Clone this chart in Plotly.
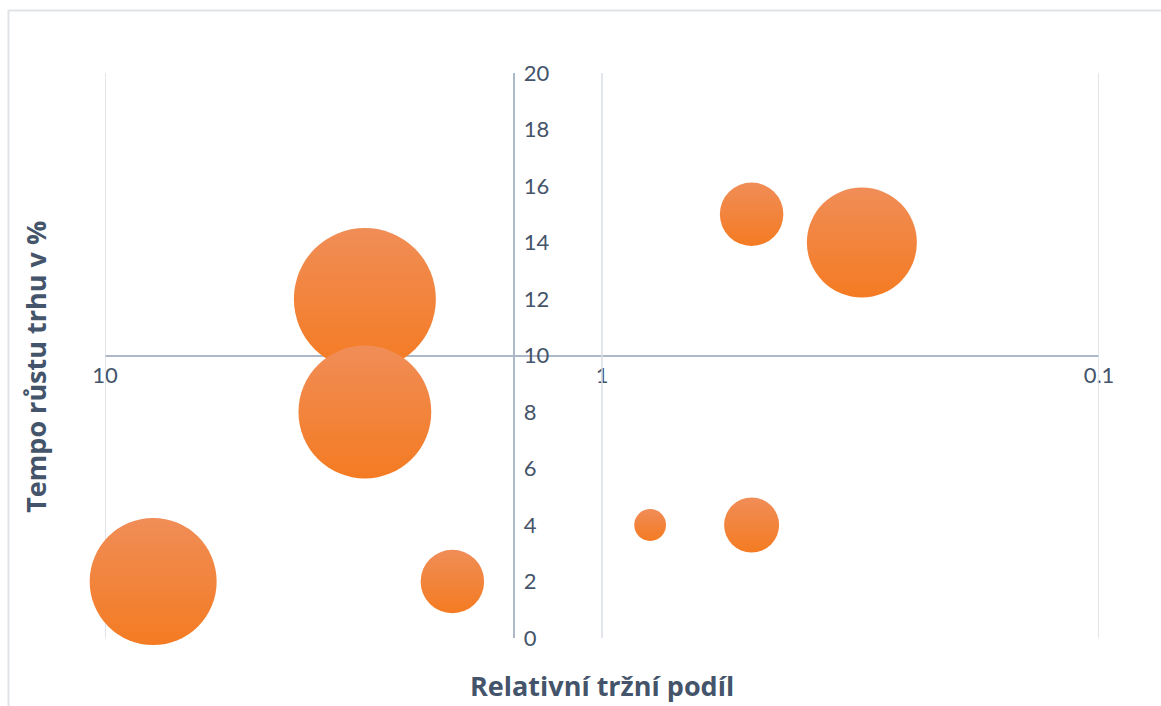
import math
import plotly.graph_objects as go

# ---- data ----
rel_share = [8, 3, 3, 2, 0.8, 0.5, 0.5, 0.3]          # Relativní tržní podíl
growth = [2, 12, 8, 2, 4, 4, 15, 14]                   # Tempo růstu trhu v %
bubble_size = [16, 20, 17.5, 4, 1, 3, 4, 12]

x_ticks = [10, 1, 0.1]
x_tick_text = ["10", "1", "0.1"]
y_ticks = list(range(0, 21, 2))

x_title = "Relativní tržní podíl"
y_title = "Tempo růstu trhu v %"

# ---- style ----
TEXT = "#44546A"
GRID = "#D9DEE4"
AXIS = "#ADB8C9"
TOP = "#F08D57"
BOTTOM = "#F47B22"
FONT = "Lato"
TFONT = "Open Sans"

W, H = 1161, 706
ML, MR, MT, MB = 105, 62, 73, 68
max_diam = 142
x_lo, x_hi = 10, 0.1
y_lo, y_hi = 0, 20
y_cross_x = 1.5      # vertical axis crosses here
x_cross_y = 10       # horizontal axis crosses here

fig = go.Figure()

# vertical gridlines at the x tick values (incl. plot edges)
gx, gy = [], []
for v in x_ticks:
    gx += [v, v, None]
    gy += [y_lo, y_hi, None]
fig.add_trace(go.Scatter(x=gx, y=gy, mode="lines", cliponaxis=False,
                         line=dict(color=GRID, width=1.5), hoverinfo="skip"))

fig.add_trace(go.Scatter(
    x=rel_share, y=growth, mode="markers",
    cliponaxis=False,
    marker=dict(
        size=bubble_size, sizemode="area",
        sizeref=2 * max(bubble_size) / max_diam ** 2,
        color=TOP, opacity=1,
        gradient=dict(type="vertical", color=BOTTOM),
        line=dict(width=0),
    ),
    hoverinfo="skip",
))

y_pos = (math.log10(x_lo) - math.log10(y_cross_x)) / (math.log10(x_lo) - math.log10(x_hi))
x_pos = (x_cross_y - y_lo) / (y_hi - y_lo)

fig.update_layout(
    width=W, height=H,
    margin=dict(l=ML, r=MR, t=MT, b=MB),
    paper_bgcolor="white", plot_bgcolor="white",
    showlegend=False,
    font=dict(family=FONT, color=TEXT, size=22),
    xaxis=dict(
        type="log", range=[math.log10(x_lo), math.log10(x_hi)],
        tickvals=x_ticks, ticktext=x_tick_text,
        showgrid=False,
        zeroline=False, showline=True, linecolor=AXIS, linewidth=1.5,
        anchor="free", position=x_pos, side="bottom",
        ticks="", layer="below traces",
        tickfont=dict(family=FONT, size=22, color=TEXT),
    ),
    yaxis=dict(
        range=[y_lo, y_hi], tickvals=y_ticks,
        showgrid=False, zeroline=False,
        showline=True, linecolor=AXIS, linewidth=1.5,
        anchor="free", position=y_pos, side="right",
        ticks="", layer="below traces", ticklabelstandoff=4,
        tickfont=dict(family=FONT, size=22, color=TEXT),
    ),
)

# chart border (left and top edges visible)
fig.add_shape(type="rect", xref="paper", yref="paper",
              x0=(8.5 - ML) / (W - ML - MR), x1=1.2,
              y0=-0.3, y1=1 + (MT - 10.5) / (H - MT - MB),
              line=dict(color="#DFE3E8", width=2), layer="below")

fig.add_annotation(text=f"<b>{x_title}</b>", xref="paper", yref="paper",
                   x=0.5, y=-(685 - (H - MB)) / (H - MT - MB),
                   showarrow=False, font=dict(family=TFONT, size=27, color=TEXT),
                   xanchor="center", yanchor="middle")
fig.add_annotation(text=f"<b>{y_title}</b>", xref="paper", yref="paper",
                   x=-(ML - 36) / (W - ML - MR), y=0.48, textangle=-90,
                   showarrow=False, font=dict(family=TFONT, size=27, color=TEXT),
                   xanchor="center", yanchor="middle")

fig.write_html("out.html")
